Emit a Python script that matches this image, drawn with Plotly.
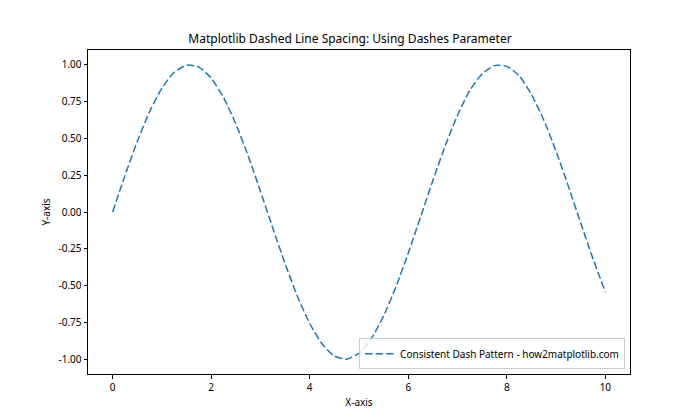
import plotly.graph_objects as go

x_vals = [0, 0.25, 0.5, 0.75, 1.0, 1.25, 1.5, 1.75, 2.0, 2.25, 2.5, 2.75, 3.0, 3.25,
          3.5, 3.75, 4.0, 4.25, 4.5, 4.75, 5.0, 5.25, 5.5, 5.75, 6.0, 6.25, 6.5, 6.75,
          7.0, 7.25, 7.5, 7.75, 8.0, 8.25, 8.5, 8.75, 9.0, 9.25, 9.5, 9.75, 10.0]
y_vals = [0.000, 0.247, 0.479, 0.682, 0.841, 0.949, 0.997, 0.984, 0.909, 0.778, 0.598,
          0.382, 0.141, -0.108, -0.351, -0.572, -0.757, -0.895, -0.978, -0.999, -0.959,
          -0.859, -0.706, -0.508, -0.279, -0.033, 0.215, 0.450, 0.657, 0.826, 0.938,
          0.994, 0.989, 0.925, 0.798, 0.624, 0.412, 0.174, -0.075, -0.319, -0.544]

x_ticks = [0, 2, 4, 6, 8, 10]
y_ticks = [-1.00, -0.75, -0.50, -0.25, 0.00, 0.25, 0.50, 0.75, 1.00]

FONT = "Noto Sans"
OFF = 8  # page body margin offset
W, H = 700 - OFF, 420 - OFF

fig = go.Figure()
fig.add_trace(go.Scatter(
    x=x_vals, y=y_vals, mode="lines",
    line=dict(color="#1f77b4", width=1.5, dash="7.5px,3px", shape="spline", smoothing=0.6),
    name="Consistent Dash Pattern - how2matplotlib.com",
))

axis_common = dict(
    showline=True, linecolor="black", linewidth=1, mirror=True,
    ticks="outside", ticklen=3.5, tickwidth=1, tickcolor="black",
    showgrid=False, zeroline=False,
    tickfont=dict(family=FONT, size=10, color="black"),
)

fig.update_layout(
    width=W, height=H,
    margin=dict(l=87.5 - OFF, r=70, t=50.4 - OFF, b=46.2),
    paper_bgcolor="white", plot_bgcolor="white",
    font=dict(family=FONT, size=10, color="black"),
    title=dict(text="Matplotlib Dashed Line Spacing: Using Dashes Parameter",
               x=(350 - OFF) / W, xanchor="center", y=1 - (39 - OFF) / H, yanchor="middle",
               font=dict(family=FONT, size=12, color="black")),
    xaxis=dict(range=[-0.5, 10.5], tickvals=x_ticks, ticktext=[str(v) for v in x_ticks],
               title=dict(text="X-axis", font=dict(family=FONT, size=10), standoff=6),
               **axis_common),
    yaxis=dict(range=[-1.1, 1.1], tickvals=y_ticks, ticktext=[f"{v:.2f}" for v in y_ticks],
               title=dict(text="Y-axis", font=dict(family=FONT, size=10), standoff=5),
               **axis_common),
    showlegend=True,
    legend=dict(x=0.991, y=0.015, xanchor="right", yanchor="bottom", itemwidth=30,
                bgcolor="rgba(255,255,255,0.8)", bordercolor="#cccccc", borderwidth=1,
                font=dict(family=FONT, size=10, color="black")),
)

fig.write_html("out.html")
